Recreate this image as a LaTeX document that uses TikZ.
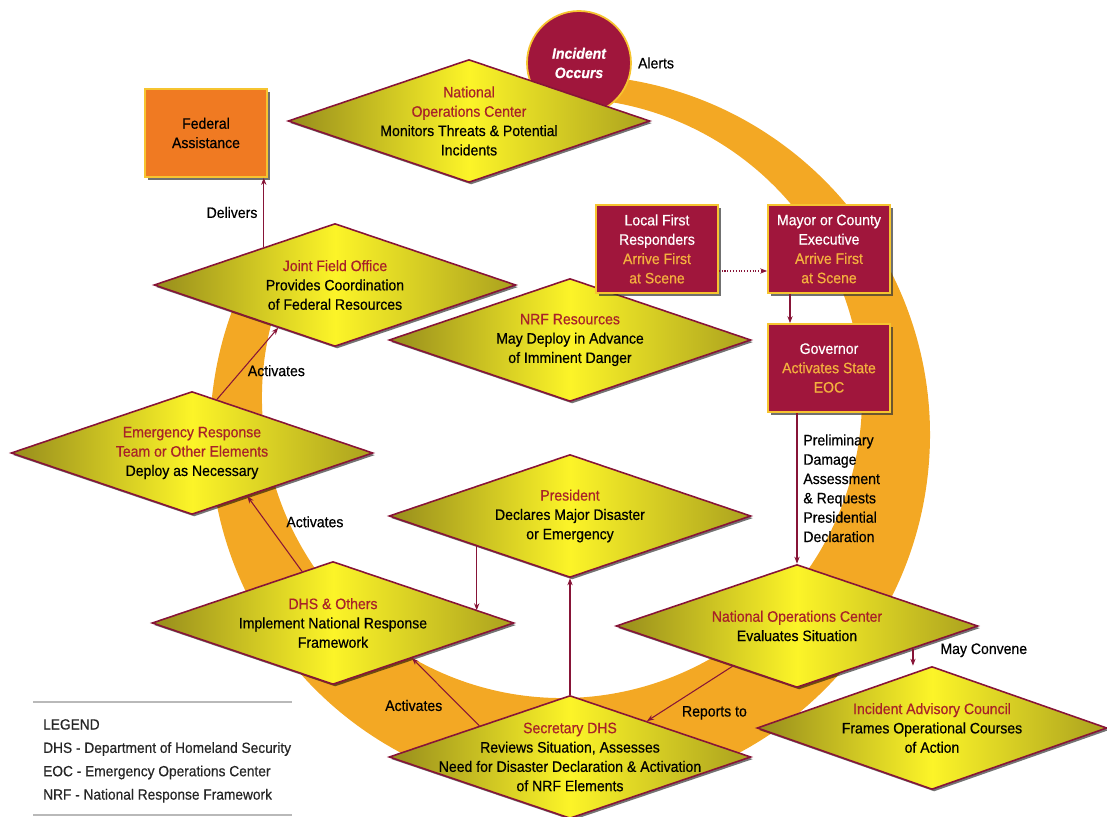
\documentclass[tikz,border=0pt]{standalone}
\usepackage{fontspec}
\setmainfont[FakeStretch=0.93, FakeBold=0.5]{Liberation Sans}
\usetikzlibrary{shapes.geometric,shadows,arrows.meta}
\definecolor{maroon}{RGB}{135,20,55}
\definecolor{crimson}{RGB}{160,22,60}
\definecolor{gold}{RGB}{246,196,48}
\definecolor{amber}{RGB}{244,176,62}
\definecolor{olivey}{RGB}{150,140,28}
\definecolor{lemon}{RGB}{252,244,40}
\definecolor{ringorange}{RGB}{243,168,36}
\definecolor{fedorange}{RGB}{240,122,34}
\definecolor{titlered}{RGB}{168,34,40}
\newcommand{\dtitle}[1]{\textcolor{titlered}{#1}}
\newcommand{\bgold}[1]{\textcolor{amber}{#1}}
\tikzset{
        every node/.style={font=\fontsize{8.6}{11}\selectfont},
        dia/.style={diamond, draw=maroon, line width=0.9pt, minimum width=7.24cm, minimum height=2.46cm, inner sep=0pt,
          left color=olivey, right color=olivey!80!lemon, middle color=lemon,
          drop shadow={shadow xshift=1.2pt, shadow yshift=-1.2pt, fill=black, opacity=0.55}},
        dtext/.style={align=center, text=black},
        box/.style={rectangle, draw=gold, line width=1pt, fill=crimson, text=white, align=center,
          minimum width=2.44cm, minimum height=1.76cm,
          drop shadow={shadow xshift=1.5pt, shadow yshift=-1.5pt, fill=black!80, opacity=0.7}},
        arr/.style={draw=maroon, line width=0.6pt, -{Stealth[length=4pt, width=3pt]}},
        lbl/.style={text=black},
        ringband/.style={fill=ringorange}
          }
\begin{document}
\begin{tikzpicture}[x=0.02cm, y=-0.02cm]
        \useasboundingbox (0,0) rectangle (1107,817);
        \fill[ringband] (570,435) ++(-85:360) arc[start angle=-85, end angle=207, radius=360]
          -- ([shift={(562,398)}]207:300) arc[start angle=207, end angle=-85, radius=300] -- cycle;
        \node[circle, fill=crimson, draw=gold, line width=1pt, minimum size=2.08cm, inner sep=0pt, text=white,
          align=center, font=\fontsize{8.6}{11}\selectfont\bfseries\itshape,
          label={[lbl]0:Alerts}] (inc) at (579,63) {Incident\\Occurs};
        \node[dia, label={[dtext]center:{\dtitle{National}\\\dtitle{Operations Center}\\Monitors Threats \& Potential\\Incidents}}] (noc) at (469,121) {};
        \node[dia, label={[dtext]center:{\dtitle{Joint Field Office}\\Provides Coordination\\of Federal Resources}}] (jfo) at (335,285) {};
        \node[dia, label={[dtext]center:{\dtitle{NRF Resources}\\May Deploy in Advance\\of Imminent Danger}}] (nrf) at (570,340) {};
        \node[dia, label={[dtext]center:{\dtitle{Emergency Response}\\\dtitle{Team or Other Elements}\\Deploy as Necessary}}] (ert) at (192,453) {};
        \node[dia, label={[dtext]center:{\dtitle{President}\\Declares Major Disaster\\or Emergency}}] (pres) at (570,516) {};
        \node[dia, label={[dtext]center:{\dtitle{DHS \& Others}\\Implement National Response\\Framework}}] (dhs) at (333,623) {};
        \node[dia, label={[dtext]center:{\dtitle{National Operations Center}\\Evaluates Situation}}] (noc2) at (797,626) {};
        \node[dia, minimum width=7cm, label={[dtext]center:{\dtitle{Incident Advisory Council}\\Frames Operational Courses\\of Action}}] (iac) at (932,728) {};
        \node[dia, label={[dtext]center:{\dtitle{Secretary DHS}\\Reviews Situation, Assesses\\Need for Disaster Declaration \& Activation\\of NRF Elements}}] (sec) at (570,757) {};
        \node[box, fill=fedorange, text=black] (fed) at (206,133) {Federal\\Assistance};
        \node[box] (lfr) at (657,249) {Local First\\Responders\\\bgold{Arrive First}\\\bgold{at Scene}};
        \node[box] (mayor) at (829,249) {Mayor or County\\Executive\\\bgold{Arrive First}\\\bgold{at Scene}};
        \node[box] (gov) at (829,368) {Governor\\\bgold{Activates State}\\\bgold{EOC}};
        \draw[arr, densely dotted] ([yshift=-0.44cm]lfr.east) -- ([yshift=-0.44cm]mayor.west);
        \draw[arr] ([xshift=-0.78cm]mayor.south) -- ([xshift=-0.78cm]gov.north);
        \draw[arr] (gov.south -| noc2.north) -- (noc2.north)
          node[midway, right, align=left, lbl] {Preliminary\\Damage\\Assessment\\\& Requests\\Presidential\\Declaration};
        \draw[arr] (noc2.212) -- (sec.25) node[pos=.85, right=9pt, lbl] {Reports to};
        \draw[arr] (noc2.-11) -- (noc2.-11 |- iac.north) node[pos=.1, right=12pt, lbl] {May Convene};
        \draw[arr] (sec.north) -- (pres.south);
        \draw[arr] (pres.-162) -- (pres.-162 |- dhs.5);
        \draw[arr] (sec.161) -- (dhs.-24) node[pos=.3, left=6pt, lbl] {Activates};
        \draw[arr] (dhs.121) -- (ert.-38) node[pos=.66, right=8pt, lbl] {Activates};
        \draw[arr] (ert.65) -- (jfo.-143) node[pos=.4, right, lbl] {Activates};
        \draw[arr] (jfo.152) -- (jfo.152 |- fed.south) node[midway, left, lbl] {Delivers};
        \draw[gray!55, line width=1pt] (33,702) -- (292,702);
        \draw[gray!55, line width=1pt] (33,815) -- (292,815);
        \node[anchor=north west, align=left, text=black!85, font=\fontsize{8.4}{13.3}\selectfont] (legend) at (37,713)
          {LEGEND\\DHS - Department of Homeland Security\\EOC - Emergency Operations Center\\NRF - National Response Framework};
      \end{tikzpicture}
\end{document}
